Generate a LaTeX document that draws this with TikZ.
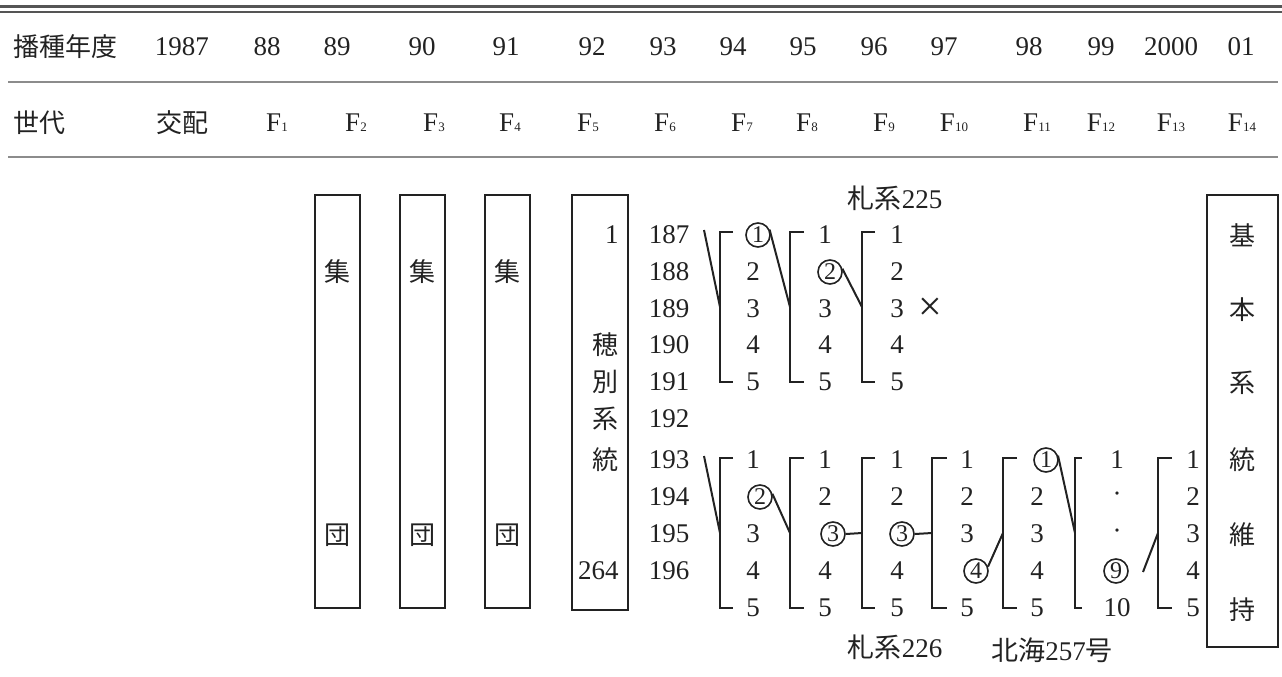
\documentclass[tikz,border=0pt]{standalone}
\usepackage{fontspec}
\setmainfont{Liberation Serif}
\newfontfamily\cjk{Noto Sans CJK JP}
\newcommand\Fgen[1]{F{\fontsize{6.5}{7}\selectfont #1}}
\definecolor{ink}{HTML}{222222}
\definecolor{rulegray}{HTML}{8C8C8C}
\definecolor{topgray}{HTML}{555555}
\newcommand\bracketat[5]{%
  \coordinate (#1t) at (#2,#3);
  \coordinate (#1b) at (#2,#4);
  \coordinate (#1m) at (#2,{(#3+#4)/2});
  \coordinate (#1tt) at (#5,#3);
  \coordinate (#1bt) at (#5,#4);
  \draw[ln] (#1tt) -- (#1t) -- (#1b) -- (#1bt);}
\begin{document}
\begin{tikzpicture}[x=0.5pt,y=-0.5pt,
  num/.style={inner sep=0pt, font=\fontsize{13.5}{15}\selectfont, text=ink},
  cj/.style={inner sep=0pt, font=\cjk\fontsize{13}{15}\selectfont, text=ink},
  cn/.style={circle, draw=ink, line width=0.8pt, inner sep=0pt, minimum size=12pt, font=\fontsize{12}{14}\selectfont, text=ink},
  box/.style={draw=ink, line width=1pt, inner sep=0pt},
  ln/.style={draw=ink, line width=1pt},
  rl/.style={draw=rulegray, line width=1pt}]
\useasboundingbox (0,0) rectangle (1282,676);
% top double rule
\coordinate (r0a) at (0,6.5); \coordinate (r0b) at (1282,6.5);
\coordinate (r1a) at (0,12); \coordinate (r1b) at (1282,12);
\draw[draw=topgray, line width=1.5pt] (r0a) -- (r0b);
\draw[draw=topgray, line width=1pt] (r1a) -- (r1b);
\coordinate (r2a) at (8,82); \coordinate (r2b) at (1278,82);
\coordinate (r3a) at (8,157); \coordinate (r3b) at (1278,157);
\draw[rl] (r2a) -- (r2b);
\draw[rl] (r3a) -- (r3b);
% header row 1
\node[cj, anchor=west] (hyear) at (13,47) {播種年度};
\foreach \x/\s [count=\i] in {182/1987, 267/88, 337/89, 422/90, 506/91, 592/92, 663/93, 733/94, 803/95, 874/96, 944/97, 1029/98, 1101/99, 1171/2000, 1241/01}
  \node[num] (yr\i) at (\x,47) {\s};
% header row 2
\node[cj, anchor=west] (hgen) at (13,123) {世代};
\node[cj] (cross) at (182,123) {交配};
\foreach \x/\s in {277/1, 356/2, 434/3, 510/4, 588/5, 665/6, 742/7, 807/8, 884/9, 954/10, 1037/11, 1101/12, 1171/13, 1242/14}
  \node[num] (F\s) at (\x,123) {\Fgen{\s}};
% boxes 集団
\foreach \x [count=\i] in {337.5, 422.5, 507.5} {
  \node[box, minimum width=22.5pt, minimum height=206.5pt] (g\i) at (\x,401.5) {};
  \node[cj] (gs\i) at (\x,272) {集};
  \node[cj] (gd\i) at (\x,535) {団};
}
% box 穂別系統
\node[box, minimum width=28pt, minimum height=207.5pt] (hb) at (600,402.5) {};
\node[num, anchor=east] (hb1) at (619,235) {1};
\node[cj, anchor=east] (hbA) at (619,345) {穂};
\node[cj, anchor=east] (hbB) at (619,382) {別};
\node[cj, anchor=east] (hbC) at (619,419) {系};
\node[cj, anchor=east] (hbD) at (619,460) {統};
\node[num, anchor=east] (hb264) at (619,571) {264};
% right box
\node[box, minimum width=35.5pt, minimum height=226pt] (kb) at (1242.5,421) {};
\foreach \y/\c [count=\i] in {235/基, 310/本, 383/系, 460/統, 535/維, 610/持}
  \node[cj] (kb\i) at (1242,\y) {\c};
% line numbers
\foreach \y/\n in {235/187, 272/188, 309/189, 345/190, 382/191, 419/192, 460/193, 497/194, 534/195, 571/196}
  \node[num] (n\n) at (669,\y) {\n};
% labels
\node[num] (sap225) at (895,198) {{\cjk 札系}225};
\node[num] (sap226) at (895,647) {{\cjk 札系}226};
\node[num] (hok257) at (1052,650) {{\cjk 北海}257{\cjk 号}};
% top group columns
\node[cn] (ta1) at (758,235) {1};
\node[num] (ta2) at (753,272) {2};
\node[num] (ta3) at (753,309) {3};
\node[num] (ta4) at (753,345) {4};
\node[num] (ta5) at (753,382) {5};
\node[num] (tb1) at (825,235) {1};
\node[cn] (tb2) at (830,272) {2};
\node[num] (tb3) at (825,309) {3};
\node[num] (tb4) at (825,345) {4};
\node[num] (tb5) at (825,382) {5};
\foreach \y [count=\i] in {235,272,309,345,382}
  \node[num] (tc\i) at (897,\y) {\i};
\node[inner sep=0pt, font=\fontsize{21}{22}\selectfont, text=ink] (xmark) at (930,309) {×};
% bottom group columns
\node[num] (ba1) at (753,460) {1};
\node[cn] (ba2) at (760,497) {2};
\node[num] (ba3) at (753,534) {3};
\node[num] (ba4) at (753,571) {4};
\node[num] (ba5) at (753,608) {5};
\node[num] (bb1) at (825,460) {1};
\node[num] (bb2) at (825,497) {2};
\node[cn] (bb3) at (833,534) {3};
\node[num] (bb4) at (825,571) {4};
\node[num] (bb5) at (825,608) {5};
\node[num] (bc1) at (897,460) {1};
\node[num] (bc2) at (897,497) {2};
\node[cn] (bc3) at (902,534) {3};
\node[num] (bc4) at (897,571) {4};
\node[num] (bc5) at (897,608) {5};
\node[num] (bd1) at (967,460) {1};
\node[num] (bd2) at (967,497) {2};
\node[num] (bd3) at (967,534) {3};
\node[cn] (bd4) at (976,571) {4};
\node[num] (bd5) at (967,608) {5};
\node[cn] (be1) at (1046,460) {1};
\node[num] (be2) at (1037,497) {2};
\node[num] (be3) at (1037,534) {3};
\node[num] (be4) at (1037,571) {4};
\node[num] (be5) at (1037,608) {5};
\node[num] (bf1) at (1117,460) {1};
\node[num] (bf2) at (1117,497) {·};
\node[num] (bf3) at (1117,534) {·};
\node[cn] (bf4) at (1116,571) {9};
\node[num] (bf5) at (1117,608) {10};
\foreach \y [count=\i] in {460,497,534,571,608}
  \node[num] (bg\i) at (1193,\y) {\i};
% brackets, top group
\bracketat{T1}{720}{232}{382}{733}
\bracketat{T2}{790}{232}{382}{804}
\bracketat{T3}{862}{232}{382}{875}
\coordinate (s1) at (704,230);
\draw[ln] (s1) -- (T1m);
\draw[ln] (ta1.25) -- (T2m);
\draw[ln] (tb2.15) -- (T3m);
% brackets, bottom group
\bracketat{B1}{720}{458}{608}{733}
\bracketat{B2}{790}{458}{608}{804}
\bracketat{B3}{862}{458}{608}{875}
\bracketat{B4}{932}{458}{608}{947}
\bracketat{B5}{1003}{458}{608}{1017}
\bracketat{B6}{1075}{458}{608}{1082}
\bracketat{B7}{1158}{458}{608}{1172}
\coordinate (s2) at (704,456);
\draw[ln] (s2) -- (B1m);
\draw[ln] (ba2.15) -- (B2m);
\draw[ln] (bb3.east) -- (B3m);
\draw[ln] (bc3.east) -- (B4m);
\draw[ln] (bd4.20) -- (B5m);
\draw[ln] (be1.20) -- (B6m);
\coordinate (s3) at (1143,572);
\draw[ln] (s3) -- (B7m);
\end{tikzpicture}
\end{document}
